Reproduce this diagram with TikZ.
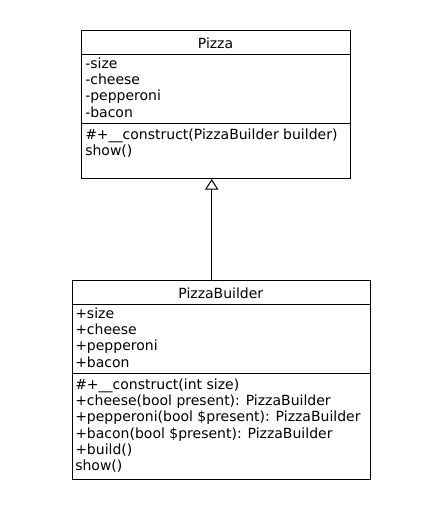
\documentclass[tikz,border=0pt]{standalone}
\usepackage{fontspec}
\setmainfont{DejaVu Sans}
\usetikzlibrary{arrows.meta}
\begin{document}
\begin{tikzpicture}[x=0.75pt,y=-0.75pt,
  comp/.style={draw,line width=0.75pt,rectangle,inner sep=0pt,anchor=north west},
  txt/.style={anchor=base west,inner sep=0pt,font=\fontsize{10.5pt}{12pt}\selectfont},
  ttl/.style={anchor=base,inner sep=0pt,font=\fontsize{10.5pt}{12pt}\selectfont},
  inherit/.style={line width=0.75pt,-{Triangle[open,length=8pt,width=10pt]}}]
\useasboundingbox (0,0) rectangle (434,514);
% Pizza
\node[comp,minimum width=201.75pt,minimum height=18pt] (pzName) at (81,30) {};
\node[comp,minimum width=201.75pt,minimum height=51.75pt] (pzAttr) at (81,54) {};
\node[comp,minimum width=201.75pt,minimum height=41.25pt] (pzOps) at (81,123) {};
\node[ttl] (pzT) at (215.5,48.3) {Pizza};
\node[txt] (pa1) at (85,68.3) {-size};
\node[txt] (pa2) at (85,84.6) {-cheese};
\node[txt] (pa3) at (85,100.9) {-pepperoni};
\node[txt] (pa4) at (85,117.2) {-bacon};
\node[txt] (po1) at (85,139.3) {\#+\_\_construct(PizzaBuilder builder)};
\node[txt] (po2) at (85,155.6) {show()};
% PizzaBuilder
\node[comp,minimum width=223.5pt,minimum height=18pt] (pbName) at (71.7,280) {};
\node[comp,minimum width=223.5pt,minimum height=51.75pt] (pbAttr) at (71.7,304) {};
\node[comp,minimum width=223.5pt,minimum height=79.5pt] (pbOps) at (71.7,373) {};
\node[ttl] (pbT) at (220.8,298.3) {PizzaBuilder};
\node[txt] (ba1) at (75,318.3) {+size};
\node[txt] (ba2) at (75,334.6) {+cheese};
\node[txt] (ba3) at (75,350.9) {+pepperoni};
\node[txt] (ba4) at (75,367.2) {+bacon};
\node[txt] (bo1) at (75,389.3) {\#+\_\_construct(int size)};
\node[txt] (bo2) at (75,405.6) {+cheese(bool present): PizzaBuilder};
\node[txt] (bo3) at (75,421.9) {+pepperoni(bool \$present): PizzaBuilder};
\node[txt] (bo4) at (75,438.2) {+bacon(bool \$present): PizzaBuilder};
\node[txt] (bo5) at (75,454.5) {+build()};
\node[txt] (bo6) at (75,470.8) {show()};
% inheritance
\coordinate (ax) at (211.7,0);
\draw[inherit] (pbName.north -| ax) -- (pzOps.south -| ax);
\end{tikzpicture}
\end{document}
